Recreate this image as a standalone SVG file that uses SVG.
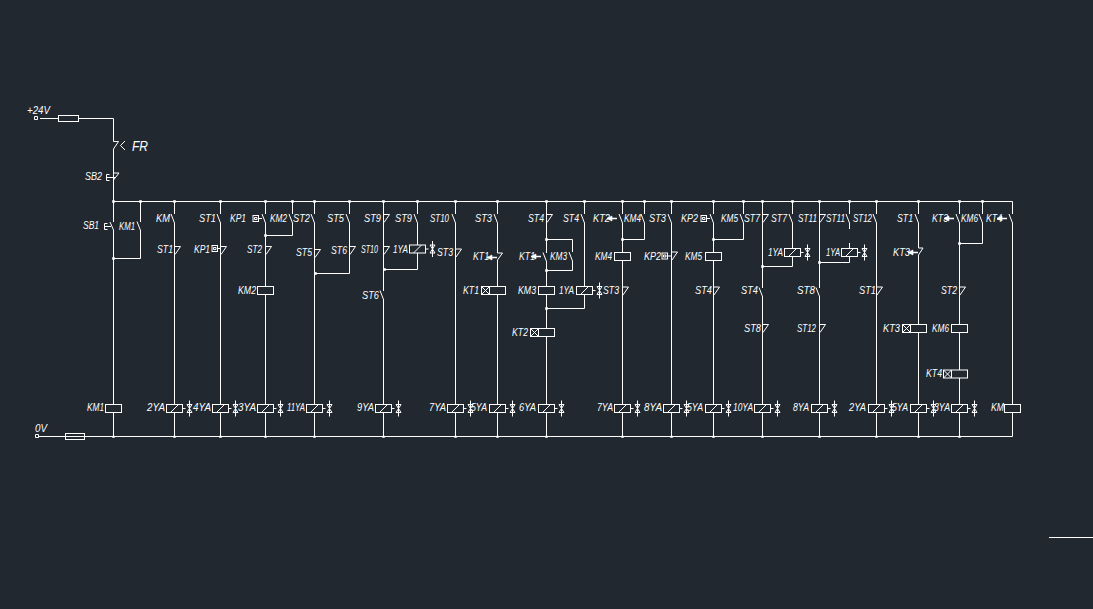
<svg xmlns="http://www.w3.org/2000/svg" width="1093" height="609" viewBox="0 0 1093 609">
<style>
.w{fill:none;stroke:#fff;stroke-width:1}
.b{fill:#212830;stroke:#fff;stroke-width:1}
.f{fill:#fff;stroke:#fff;stroke-width:.6}
text{font-family:"Liberation Sans",Arial,sans-serif;font-style:italic;font-size:11px;fill:#fff}
</style>
<defs>
<path id="nc" class="w" d="M0,0H6L.5,8"/>
<path id="no" class="w" d="M-3.5,-4.5L0,4.5"/>
<rect id="coil" class="b" x="-8" y="-4" width="16" height="8"/>
<g id="sol"><rect class="b" x="-8" y="-4" width="16" height="8"/><path class="w" d="M-4,4L4,-4M8,0H11M15,-8V8M12.5,-4H17.5L12.5,4H17.5L12.5,-4"/></g>
<g id="timer"><rect class="b" x="-16" y="-4" width="24" height="8"/><path class="w" d="M-8,-4V4M-16,-4L-8,4M-16,4L-8,-4"/></g>
<g id="arrow"><path class="f" d="M-13,0L-8,-2.5V2.5Z"/><path class="f" style="stroke-width:1.5" d="M-13,0H-3"/></g>
<g id="kp"><rect class="b" x="0" y="-3" width="5.5" height="6"/><path class="w" d="M1.5,-1H4V1H1.5ZM5.5,0H9"/></g>
</defs>
<rect width="1093" height="609" fill="#212830"/>
<g id="connectors">
<path class="w" d="M40,118.5H113.5V141.5M113.5,149V222M113.5,230V436.5M113.5,201.5H1012.5V214M1012.5,223V436.5M38,436.5H1012.5"/>
<path class="w" d="M140.5,201.5V222M140.5,230V258.5H113.5"/>
<path class="w" d="M174.5,201.5V214M174.5,223V436.5M220.5,201.5V214M220.5,223V436.5M265.5,201.5V214M265.5,223V436.5M292.5,201.5V214M292.5,223V235.5H265.5"/>
<path class="w" d="M314.5,201.5V214M314.5,223V436.5M349.5,201.5V214M349.5,223V273.5H314.5"/>
<path class="w" d="M383.5,201.5V291M383.5,299V436.5M417.5,201.5V214M417.5,223V269.5H383.5"/>
<path class="w" d="M455.5,201.5V214M455.5,223V436.5M497.5,201.5V214M497.5,223V253M497.5,260V436.5"/>
<path class="w" d="M546.5,201.5V253M546.5,261V436.5M546.5,239.5H572.5V252M572.5,261V270.5H546.5M584.5,201.5V214M584.5,223V308.5H546.5"/>
<path class="w" d="M622.5,201.5V214M622.5,223V436.5M622.5,239.5H644.5V223M644.5,214V201.5M671.5,201.5V214M671.5,223V436.5"/>
<path class="w" d="M713.5,201.5V214M713.5,223V436.5M713.5,239.5H743.5V223M743.5,214V201.5"/>
<path class="w" d="M762.5,201.5V288M762.5,296V436.5M792.5,201.5V214M792.5,223V266.5H762.5"/>
<path class="w" d="M819.5,201.5V288M819.5,296V436.5M849.5,201.5V214M849.5,223V229M849.5,243V262.5H819.5"/>
<path class="w" d="M876.5,201.5V214M876.5,223V436.5M918.5,201.5V214M918.5,223V248M918.5,255V436.5"/>
<path class="w" d="M959.5,201.5V214M959.5,223V436.5M959.5,243.5H982.5V223M982.5,214V201.5"/>
<path class="f" d="M112.5,200.5h2v2h-2zM139.5,200.5h2v2h-2zM173.5,200.5h2v2h-2zM219.5,200.5h2v2h-2zM264.5,200.5h2v2h-2zM291.5,200.5h2v2h-2zM313.5,200.5h2v2h-2zM348.5,200.5h2v2h-2zM382.5,200.5h2v2h-2zM416.5,200.5h2v2h-2zM454.5,200.5h2v2h-2zM496.5,200.5h2v2h-2zM545.5,200.5h2v2h-2zM583.5,200.5h2v2h-2zM621.5,200.5h2v2h-2zM643.5,200.5h2v2h-2zM670.5,200.5h2v2h-2zM712.5,200.5h2v2h-2zM742.5,200.5h2v2h-2zM761.5,200.5h2v2h-2zM791.5,200.5h2v2h-2zM818.5,200.5h2v2h-2zM848.5,200.5h2v2h-2zM875.5,200.5h2v2h-2zM917.5,200.5h2v2h-2zM958.5,200.5h2v2h-2zM981.5,200.5h2v2h-2z"/>
<path class="f" d="M112.5,436v1.5h2V436zM173.5,436v1.5h2V436zM219.5,436v1.5h2V436zM264.5,436v1.5h2V436zM313.5,436v1.5h2V436zM382.5,436v1.5h2V436zM454.5,436v1.5h2V436zM496.5,436v1.5h2V436zM545.5,436v1.5h2V436zM621.5,436v1.5h2V436zM670.5,436v1.5h2V436zM712.5,436v1.5h2V436zM761.5,436v1.5h2V436zM818.5,436v1.5h2V436zM875.5,436v1.5h2V436zM917.5,436v1.5h2V436zM958.5,436v1.5h2V436z"/>
<path class="f" d="M112.5,257.5h2v2h-2zM264.5,234.5h2v2h-2zM314.5,272.5h2v2h-2zM383.5,268.5h2v2h-2zM545.5,238.5h2v2h-2zM545.5,269.5h2v2h-2zM545.5,307.5h2v2h-2zM621.5,238.5h2v2h-2zM712.5,238.5h2v2h-2zM761.5,265.5h2v2h-2zM818.5,261.5h2v2h-2zM958.5,242.5h2v2h-2z"/>
</g>
<g id="supply-24v"><path class="w" d="M34.5,116.5h3v3h-3z"/><rect class="b" x="58.5" y="115.5" width="20" height="6"/><text x="27" y="114" textLength="23" lengthAdjust="spacingAndGlyphs">+24V</text></g>
<g id="supply-0v"><path class="w" d="M35.5,434.5h3v3h-3z"/><rect class="w" x="65.5" y="433.5" width="19" height="6"/><text x="35" y="432" textLength="12" lengthAdjust="spacingAndGlyphs">0V</text></g>
<g id="fr"><path class="w" d="M113.5,141.5H118.5L113.5,149M125,141L120.5,145.5L125,150"/><text x="132" y="151" style="font-size:15px" textLength="16" lengthAdjust="spacingAndGlyphs">FR</text></g>
<g id="sb2"><path class="w" d="M113.5,173H119L113.5,180M109.5,174.5H106.5V180.5H109.5M106.5,177.5H116"/><text x="85" y="180" textLength="17" lengthAdjust="spacingAndGlyphs">SB2</text></g>
<g id="sb1"><path class="w" d="M110,222L113.5,230M107.5,223.5H104.5V229.5H107.5M104.5,226.5H111"/><text x="83" y="229" textLength="16" lengthAdjust="spacingAndGlyphs">SB1</text></g>
<g id="km1-contact"><use href="#no" x="140.5" y="226"/><text x="119" y="230" textLength="16" lengthAdjust="spacingAndGlyphs">KM1</text></g>
<g id="km1-coil"><use href="#coil" x="113.5" y="408.5"/><text x="87" y="411" textLength="17" lengthAdjust="spacingAndGlyphs">KM1</text></g>
<g id="c174-km"><use href="#no" x="174.5" y="218.5"/><text x="156" y="222" textLength="14" lengthAdjust="spacingAndGlyphs">KM</text></g>
<g id="c174-st1"><use href="#nc" x="174.5" y="246.5"/><text x="157" y="252.5" textLength="16" lengthAdjust="spacingAndGlyphs">ST1</text></g>
<g id="c174-2ya"><use href="#sol" x="174.5" y="408.5"/><text x="147" y="411" textLength="18" lengthAdjust="spacingAndGlyphs">2YA</text></g>
<g id="c220-st1"><use href="#no" x="220.5" y="218.5"/><text x="199" y="222" textLength="17" lengthAdjust="spacingAndGlyphs">ST1</text></g>
<g id="c220-kp1"><use href="#nc" x="220.5" y="246.5"/><use href="#kp" x="212" y="248.5"/><text x="194" y="252.5" textLength="16" lengthAdjust="spacingAndGlyphs">KP1</text></g>
<g id="c220-4ya"><use href="#sol" x="220.5" y="408.5"/><text x="193" y="411" textLength="18" lengthAdjust="spacingAndGlyphs">4YA</text></g>
<g id="c266-kp1"><use href="#no" x="265.5" y="218.5"/><use href="#kp" x="253" y="218.5"/><text x="230" y="222" textLength="16" lengthAdjust="spacingAndGlyphs">KP1</text></g>
<g id="c292-km2"><use href="#no" x="292.5" y="218.5"/><text x="270" y="222" textLength="17" lengthAdjust="spacingAndGlyphs">KM2</text></g>
<g id="c266-st2"><use href="#nc" x="265.5" y="246.5"/><text x="247" y="252.5" textLength="15" lengthAdjust="spacingAndGlyphs">ST2</text></g>
<g id="c266-km2"><use href="#coil" x="265.5" y="290.5"/><text x="238" y="293.5" textLength="18" lengthAdjust="spacingAndGlyphs">KM2</text></g>
<g id="c266-3ya"><use href="#sol" x="265.5" y="408.5"/><text x="238" y="411" textLength="18" lengthAdjust="spacingAndGlyphs">3YA</text></g>
<g id="c315-st2"><use href="#no" x="314.5" y="218.5"/><text x="293" y="222" textLength="17" lengthAdjust="spacingAndGlyphs">ST2</text></g>
<g id="c315-st5"><use href="#nc" x="314.5" y="249.5"/><text x="296" y="256" textLength="16" lengthAdjust="spacingAndGlyphs">ST5</text></g>
<g id="c349-st5"><use href="#no" x="349.5" y="218.5"/><text x="327" y="222" textLength="17" lengthAdjust="spacingAndGlyphs">ST5</text></g>
<g id="c349-st6"><use href="#nc" x="349.5" y="246.5"/><text x="331" y="253.5" textLength="16" lengthAdjust="spacingAndGlyphs">ST6</text></g>
<g id="c315-11ya"><use href="#sol" x="314.5" y="408.5"/><text x="287" y="411" textLength="18" lengthAdjust="spacingAndGlyphs">11YA</text></g>
<g id="c383-st9"><use href="#nc" x="383.5" y="214.5"/><text x="364" y="222" textLength="17" lengthAdjust="spacingAndGlyphs">ST9</text></g>
<g id="c383-st10"><use href="#nc" x="383.5" y="246.5"/><text x="361" y="253" textLength="17" lengthAdjust="spacingAndGlyphs">ST10</text></g>
<g id="c383-st6"><use href="#no" x="383.5" y="295"/><text x="362" y="298.5" textLength="17" lengthAdjust="spacingAndGlyphs">ST6</text></g>
<g id="c383-9ya"><use href="#sol" x="383.5" y="408.5"/><text x="357" y="411" textLength="17" lengthAdjust="spacingAndGlyphs">9YA</text></g>
<g id="c417-st9"><use href="#no" x="417.5" y="218.5"/><text x="395" y="222" textLength="17" lengthAdjust="spacingAndGlyphs">ST9</text></g>
<g id="c417-1ya"><use href="#sol" x="417.5" y="249"/><text x="393" y="253" textLength="15" lengthAdjust="spacingAndGlyphs">1YA</text></g>
<g id="c455-st10"><use href="#no" x="455.5" y="218.5"/><text x="430" y="222" textLength="19" lengthAdjust="spacingAndGlyphs">ST10</text></g>
<g id="c455-st3"><use href="#nc" x="455.5" y="249"/><text x="437" y="256" textLength="16" lengthAdjust="spacingAndGlyphs">ST3</text></g>
<g id="c455-7ya"><use href="#sol" x="455.5" y="408.5"/><text x="429" y="411" textLength="17" lengthAdjust="spacingAndGlyphs">7YA</text></g>
<g id="c497-st3"><use href="#no" x="497.5" y="218.5"/><text x="475" y="222" textLength="17" lengthAdjust="spacingAndGlyphs">ST3</text></g>
<g id="c497-kt1-contact"><path class="w" d="M497.5,253H502.5L497.5,260"/><use href="#arrow" x="500" y="257.5"/><text x="473" y="260" textLength="16" lengthAdjust="spacingAndGlyphs">KT1</text></g>
<g id="c497-kt1-coil"><use href="#timer" x="497.5" y="290.5"/><text x="463" y="293.5" textLength="16" lengthAdjust="spacingAndGlyphs">KT1</text></g>
<g id="c497-5ya"><use href="#sol" x="497.5" y="408.5"/><text x="471" y="411" textLength="16" lengthAdjust="spacingAndGlyphs">5YA</text></g>
<g id="c546-st4"><use href="#nc" x="546.5" y="214.5"/><text x="528" y="222" textLength="16" lengthAdjust="spacingAndGlyphs">ST4</text></g>
<g id="c546-kt1"><use href="#no" x="546.5" y="257"/><use href="#arrow" x="544" y="256.5"/><text x="519" y="260" textLength="16" lengthAdjust="spacingAndGlyphs">KT1</text></g>
<g id="c572-km3"><use href="#no" x="572.5" y="256.5"/><text x="550" y="260" textLength="17" lengthAdjust="spacingAndGlyphs">KM3</text></g>
<g id="c546-km3"><use href="#coil" x="546.5" y="290.5"/><text x="518" y="293.5" textLength="18" lengthAdjust="spacingAndGlyphs">KM3</text></g>
<g id="c546-kt2"><use href="#timer" x="546.5" y="332.5"/><text x="512" y="336" textLength="16" lengthAdjust="spacingAndGlyphs">KT2</text></g>
<g id="c546-6ya"><use href="#sol" x="546.5" y="408.5"/><text x="519" y="411" textLength="17" lengthAdjust="spacingAndGlyphs">6YA</text></g>
<g id="c584-st4"><use href="#no" x="584.5" y="218.5"/><text x="563" y="222" textLength="16" lengthAdjust="spacingAndGlyphs">ST4</text></g>
<g id="c584-1ya"><use href="#sol" x="584.5" y="290.5"/><text x="559" y="293.5" textLength="15" lengthAdjust="spacingAndGlyphs">1YA</text></g>
<g id="c622-st3-mark"><use href="#nc" x="622.5" y="287"/><text x="603" y="293.5" textLength="16" lengthAdjust="spacingAndGlyphs">ST3</text></g>
<g id="c622-kt2"><use href="#no" x="622.5" y="218.5"/><use href="#arrow" x="620" y="218.5"/><text x="593" y="222" textLength="17" lengthAdjust="spacingAndGlyphs">KT2</text></g>
<g id="c645-km4"><use href="#no" x="644.5" y="218.5"/><text x="624" y="222" textLength="17" lengthAdjust="spacingAndGlyphs">KM4</text></g>
<g id="c622-km4"><use href="#coil" x="622.5" y="256.5"/><text x="595" y="260" textLength="17" lengthAdjust="spacingAndGlyphs">KM4</text></g>
<g id="c622-7ya"><use href="#sol" x="622.5" y="408.5"/><text x="597" y="411" textLength="16" lengthAdjust="spacingAndGlyphs">7YA</text></g>
<g id="c671-st3"><use href="#no" x="671.5" y="218.5"/><text x="649" y="222" textLength="17" lengthAdjust="spacingAndGlyphs">ST3</text></g>
<g id="c671-kp2"><use href="#nc" x="671.5" y="252"/><use href="#kp" x="662" y="256"/><text x="644" y="260" textLength="17" lengthAdjust="spacingAndGlyphs">KP2</text></g>
<g id="c671-8ya"><use href="#sol" x="671.5" y="408.5"/><text x="644" y="411" textLength="18" lengthAdjust="spacingAndGlyphs">8YA</text></g>
<g id="c713-kp2"><use href="#no" x="713.5" y="218.5"/><use href="#kp" x="701" y="218.5"/><text x="681" y="222" textLength="17" lengthAdjust="spacingAndGlyphs">KP2</text></g>
<g id="c743-km5"><use href="#no" x="743.5" y="218.5"/><text x="721" y="222" textLength="17" lengthAdjust="spacingAndGlyphs">KM5</text></g>
<g id="c713-km5"><use href="#coil" x="713.5" y="256.5"/><text x="685" y="260" textLength="17" lengthAdjust="spacingAndGlyphs">KM5</text></g>
<g id="c713-st4"><use href="#nc" x="713.5" y="287"/><text x="695" y="293.5" textLength="17" lengthAdjust="spacingAndGlyphs">ST4</text></g>
<g id="c713-5ya"><use href="#sol" x="713.5" y="408.5"/><text x="687" y="411" textLength="16" lengthAdjust="spacingAndGlyphs">5YA</text></g>
<g id="c762-st7"><use href="#nc" x="762.5" y="214.5"/><text x="744" y="222" textLength="16" lengthAdjust="spacingAndGlyphs">ST7</text></g>
<g id="c762-st4"><use href="#no" x="762.5" y="292"/><text x="741" y="294" textLength="17" lengthAdjust="spacingAndGlyphs">ST4</text></g>
<g id="c762-st8"><use href="#nc" x="762.5" y="324.5"/><text x="744" y="331.5" textLength="17" lengthAdjust="spacingAndGlyphs">ST8</text></g>
<g id="c762-10ya"><use href="#sol" x="762.5" y="408.5"/><text x="733" y="411" textLength="20" lengthAdjust="spacingAndGlyphs">10YA</text></g>
<g id="c793-st7"><use href="#no" x="792.5" y="218.5"/><text x="771" y="222" textLength="16" lengthAdjust="spacingAndGlyphs">ST7</text></g>
<g id="c793-1ya"><use href="#sol" x="792.5" y="252.5"/><text x="768" y="255.5" textLength="15" lengthAdjust="spacingAndGlyphs">1YA</text></g>
<g id="c819-st11"><use href="#nc" x="819.5" y="214.5"/><text x="798" y="222" textLength="19" lengthAdjust="spacingAndGlyphs">ST11</text></g>
<g id="c819-st8"><use href="#no" x="819.5" y="292"/><text x="797" y="294" textLength="18" lengthAdjust="spacingAndGlyphs">ST8</text></g>
<g id="c819-st12"><use href="#nc" x="819.5" y="324.5"/><text x="797" y="331.5" textLength="19" lengthAdjust="spacingAndGlyphs">ST12</text></g>
<g id="c819-8ya"><use href="#sol" x="819.5" y="408.5"/><text x="793" y="411" textLength="16" lengthAdjust="spacingAndGlyphs">8YA</text></g>
<g id="c850-st11"><use href="#no" x="849.5" y="218.5"/><text x="826" y="222" textLength="19" lengthAdjust="spacingAndGlyphs">ST11</text></g>
<g id="c850-1ya"><use href="#sol" x="849.5" y="252.5"/><text x="826" y="255.5" textLength="14" lengthAdjust="spacingAndGlyphs">1YA</text></g>
<g id="c876-st12"><use href="#no" x="876.5" y="218.5"/><text x="853" y="222" textLength="19" lengthAdjust="spacingAndGlyphs">ST12</text></g>
<g id="c876-st1"><use href="#nc" x="876.5" y="287"/><text x="859" y="294" textLength="17" lengthAdjust="spacingAndGlyphs">ST1</text></g>
<g id="c876-2ya"><use href="#sol" x="876.5" y="408.5"/><text x="849" y="411" textLength="17" lengthAdjust="spacingAndGlyphs">2YA</text></g>
<g id="c918-st1"><use href="#no" x="918.5" y="218.5"/><text x="897" y="222" textLength="16" lengthAdjust="spacingAndGlyphs">ST1</text></g>
<g id="c918-kt3-contact"><path class="w" d="M918.5,248H923L918.5,255"/><use href="#arrow" x="921" y="252.5"/><text x="893" y="256" textLength="17" lengthAdjust="spacingAndGlyphs">KT3</text></g>
<g id="c918-kt3-coil"><use href="#timer" x="918.5" y="328.5"/><text x="883" y="332" textLength="17" lengthAdjust="spacingAndGlyphs">KT3</text></g>
<g id="c918-5ya"><use href="#sol" x="918.5" y="408.5"/><text x="892" y="411" textLength="16" lengthAdjust="spacingAndGlyphs">5YA</text></g>
<g id="c960-kt3"><use href="#no" x="959.5" y="218.5"/><use href="#arrow" x="957" y="218.5"/><text x="932" y="222" textLength="16" lengthAdjust="spacingAndGlyphs">KT3</text></g>
<g id="c982-km6"><use href="#no" x="982.5" y="218.5"/><text x="961" y="222" textLength="17" lengthAdjust="spacingAndGlyphs">KM6</text></g>
<g id="c960-st2"><use href="#nc" x="959.5" y="287"/><text x="941" y="294" textLength="16" lengthAdjust="spacingAndGlyphs">ST2</text></g>
<g id="c960-km6"><use href="#coil" x="959.5" y="328.5"/><text x="932" y="332" textLength="17" lengthAdjust="spacingAndGlyphs">KM6</text></g>
<g id="c960-kt4"><use href="#timer" x="959.5" y="374"/><text x="926" y="377" textLength="16" lengthAdjust="spacingAndGlyphs">KT4</text></g>
<g id="c960-3ya"><use href="#sol" x="959.5" y="408.5"/><text x="934" y="411" textLength="16" lengthAdjust="spacingAndGlyphs">3YA</text></g>
<g id="c1012-kt4"><use href="#no" x="1012.5" y="218.5"/><use href="#arrow" x="1010" y="218.5"/><text x="986" y="222" textLength="16" lengthAdjust="spacingAndGlyphs">KT4</text></g>
<g id="c1012-km"><use href="#coil" x="1012.5" y="408.5"/><text x="991" y="411" textLength="13" lengthAdjust="spacingAndGlyphs">KM</text></g>
<path id="corner-line" class="w" d="M1049,537.5H1093"/>
</svg>
